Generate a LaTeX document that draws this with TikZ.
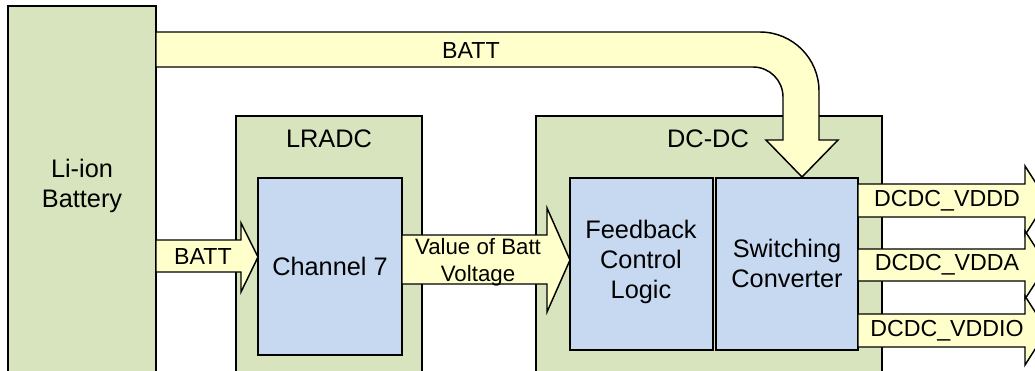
\documentclass[tikz,border=0pt]{standalone}
\usepackage{fontspec}
\setmainfont{Liberation Sans}
\usetikzlibrary{fit}
\definecolor{bgreen}{HTML}{D7E4BD}
\definecolor{bblue}{HTML}{C6D9F1}
\definecolor{byellow}{HTML}{FFFFCC}
\begin{document}
\begin{tikzpicture}[x=0.75pt,y=-0.75pt, line width=1.1pt,
  greenbox/.style={draw=black, fill=bgreen, inner sep=0pt},
  bluebox/.style={draw=black, fill=bblue, inner sep=0pt},
  fatarrow/.style={draw=black, fill=byellow, line join=miter},
  maintext/.style={font=\fontsize{19}{22.5}\selectfont, align=center, inner sep=0pt},
  arrowtext/.style={font=\fontsize{17.4}{21}\selectfont, align=center, inner sep=0pt}]
\useasboundingbox (0,0) rectangle (1035,371);
\clip (0,0) rectangle (1035,371);
% boxes
\node[greenbox, fit={(8,6)(156,390)}] (battery) {};
\node[greenbox, fit={(236,116)(422,390)}] (lradc) {};
\node[greenbox, fit={(536,116)(882,390)}] (dcdc) {};
\node[bluebox, fit={(258,178)(402,355)}] (ch7) {};
\node[bluebox, fit={(570,178)(713,350)}] (fb) {};
\node[bluebox, fit={(716,178)(858,350)}] (sw) {};
% box labels
\node[maintext] (battlabel) at (82,186) {Li-ion\\Battery};
\node[maintext] (lradclabel) at (329,139) {LRADC};
\node[maintext] (dcdclabel) at (708,139) {DC-DC};
\node[maintext] (ch7label) at (330,266) {Channel 7};
\node[maintext] (fblabel) at (641,262) {Feedback\\Control\\Logic};
\node[maintext] (swlabel) at (787,263) {Switching\\Converter};
% top BATT band into switching converter
\path[fatarrow] (156,32) -- (760,32) .. controls (792.6,32) and (819,58.4) .. (819,91)
  -- (819,140) -- (838,140) -- (802,177) -- (766,140) -- (783,140) -- (783,97)
  .. controls (783,80.4) and (769.6,67) .. (753,67) -- (156,67) -- cycle;
\node[arrowtext] (topbatt) at (471,51) {BATT};
% small BATT arrow battery -> channel 7
\path[fatarrow] (156,240) -- (241,240) -- (241,223) -- (258,257) -- (241,292) -- (241,272) -- (156,272) -- cycle;
\node[arrowtext] (smallbatt) at (203,257) {BATT};
% value arrow channel 7 -> feedback
\path[fatarrow] (402,235) -- (547,235) -- (547,208) -- (570,260) -- (547,312) -- (547,284) -- (402,284) -- cycle;
\node[arrowtext, font=\fontsize{16.7}{20.5}\selectfont] (vallabel) at (478,262) {Value of Batt\\Voltage};
% outputs
\path[fatarrow] (858,184) -- (1025,184) -- (1025,166) -- (1047,200.5) -- (1025,235) -- (1025,217) -- (858,217) -- cycle;
\path[fatarrow] (858,249) -- (1025,249) -- (1025,231) -- (1047,265) -- (1025,299) -- (1025,281) -- (858,281) -- cycle;
\path[fatarrow] (858,314) -- (1025,314) -- (1025,296) -- (1047,330.5) -- (1025,365) -- (1025,347) -- (858,347) -- cycle;
\node[arrowtext] (vddd) at (947,201) {DCDC\_VDDD};
\node[arrowtext] (vdda) at (947,265) {DCDC\_VDDA};
\node[arrowtext] (vddio) at (947,331) {DCDC\_VDDIO};
\end{tikzpicture}
\end{document}
